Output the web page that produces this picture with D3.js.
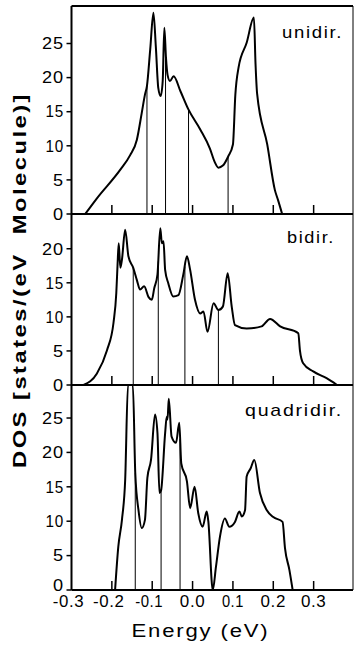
<!DOCTYPE html>
<html>
<head>
<meta charset="utf-8">
<script src="https://cdn.jsdelivr.net/npm/d3@7"></script>
<style>
  body { margin: 0; background: #fff; }
  svg { display: block; }
  text { font-family: "Liberation Sans", Arial, sans-serif; fill: #000; white-space: pre; }
</style>
</head>
<body>
<script>
// DOS curves, energy in eV, DOS in states/(eV Molecule)
let uniE = [-0.266,-0.237,-0.179,-0.155,-0.138,-0.126,-0.118,-0.113,-0.105,-0.097,-0.091,-0.085,-0.079,-0.074,-0.070,-0.066,-0.062,-0.056,-0.047,-0.030,-0.010,0.019,0.043,0.055,0.064,0.075,0.088,0.100,0.106,0.114,0.134,0.152,0.156,0.160,0.185,0.204,0.212,0.222];
let uniDos = [0,2.3,6.5,8.6,10.9,14.8,17.5,18.8,24.1,29.5,24.5,18.5,17.3,19.5,27.3,23.0,20.4,19.5,20.2,18.0,15.3,12.4,9.6,7.6,6.8,7.1,8.4,10.2,17.5,21.5,25.1,28.8,22.0,17.6,10.2,3.5,2.0,0];
let uniLines = [-0.113,-0.067,-0.010,0.088];

let biE = [-0.270,-0.237,-0.212,-0.196,-0.189,-0.186,-0.183,-0.179,-0.175,-0.167,-0.159,-0.147,-0.138,-0.130,-0.120,-0.109,-0.101,-0.095,-0.087,-0.080,-0.076,-0.072,-0.068,-0.060,-0.048,-0.035,-0.023,-0.014,-0.006,0.006,0.019,0.027,0.037,0.052,0.064,0.075,0.087,0.097,0.105,0.134,0.171,0.192,0.217,0.262,0.266,0.274,0.299,0.332,0.358];
let biDos = [0,1.7,5.1,9.1,13.5,17.5,20.8,17.2,18.4,22.8,18.9,17.2,15.4,14.0,14.5,12.9,12.5,14.2,16.2,23.0,20.8,21.1,16.9,14.9,13.0,13.2,16.2,18.9,16.9,12.5,10.5,10.8,7.8,12.0,11.0,11.5,16.4,11.5,8.8,8.3,8.6,9.7,8.6,7.6,5.1,3.2,2.0,1.0,0];
let biLines = [-0.147,-0.085,-0.019,0.064];

let quadE = [-0.192,-0.184,-0.175,-0.167,-0.160,-0.148,-0.142,-0.134,-0.126,-0.118,-0.112,-0.103,-0.093,-0.087,-0.082,-0.078,-0.068,-0.064,-0.062,-0.059,-0.052,-0.041,-0.033,-0.028,-0.014,-0.006,0.005,0.014,0.025,0.035,0.039,0.050,0.058,0.068,0.080,0.091,0.105,0.116,0.122,0.130,0.134,0.144,0.153,0.167,0.184,0.200,0.223,0.229,0.240,0.248];
let quadDos = [0,6.3,10.2,16.0,29.8,29.8,17.0,11.6,9.0,10.2,16.3,18.9,25.5,22.8,14.1,14.5,22.8,25.2,24.8,27.8,22.3,21.4,24.3,18.4,15.8,11.9,15.0,11.2,9.2,11.4,10.0,0,3.4,7.8,10.4,9.2,9.9,11.4,10.7,11.6,16.5,17.7,18.9,14.1,11.6,10.6,9.9,6.1,2.9,0];
let quadLines = [-0.142,-0.078,-0.031];

let panelNames = ["unidir.", "bidir.", "quadridir."];
let uniTicks = [0,5,10,15,20,25];
let biTicks = [0,5,10,15,20];
let quadTicks = [0,5,10,15,20,25];
let xTicks = [-0.2,-0.1,0.0,0.1,0.2,0.3];
let xLabelVals = [-0.3,-0.2,-0.1,0.0,0.1,0.2,0.3];
let xLabels = ["-0.3","-0.2","-0.1","0.0","0.1","0.2","0.3"];

let width = 354, height = 648;
let left = 71.5, right = 353;

let svg = d3.select("body").append("svg").attr("width", width).attr("height", height);

let x = d3.scaleLinear().domain([-0.3, 0.4]).range([left, 354]);

// rough glyph widths of the wide font in the scan
function charW(c) { return c == "1" ? 7.5 : c == "." ? 3.5 : c == "-" ? 6 : 11; }
function strW(s) { return d3.sum(s.split(""), charW); }

let panels = [
  {name: panelNames[0], E: uniE, dos: uniDos, lines: uniLines, ticks: uniTicks,
   y: d3.scaleLinear().domain([0, 30.5]).range([214, 6]), lab: [343, 38], w: 61},
  {name: panelNames[1], E: biE, dos: biDos, lines: biLines, ticks: biTicks,
   y: d3.scaleLinear().domain([0, 25.1]).range([385, 214]), lab: [335, 243], w: 48},
  {name: panelNames[2], E: quadE, dos: quadDos, lines: quadLines, ticks: quadTicks,
   y: d3.scaleLinear().domain([0, 29.8]).range([590, 385]), lab: [343, 416], w: 98}
];

function valAt(e, es, ds) {
  let i = d3.bisectLeft(es, e);
  if (i <= 0) return ds[0];
  if (i >= es.length) return ds[ds.length - 1];
  let t = (e - es[i-1]) / (es[i] - es[i-1]);
  return ds[i-1] + t * (ds[i] - ds[i-1]);
}

panels.forEach((p, k) => {
  let g = svg.append("g");
  let y = p.y;

  // thin vertical lines from baseline to curve
  g.selectAll("line.vl").data(p.lines).join("line")
    .attr("x1", d => x(d)).attr("x2", d => x(d))
    .attr("y1", y(0)).attr("y2", d => y(valAt(d, p.E, p.dos)))
    .attr("stroke", "#000").attr("stroke-width", 1);

  // inward x ticks
  g.selectAll("line.xt").data(xTicks).join("line")
    .attr("x1", d => x(d)).attr("x2", d => x(d))
    .attr("y1", y(0)).attr("y2", y(0) - 9)
    .attr("stroke", "#000").attr("stroke-width", 1.5);

  // outward y ticks + labels
  g.selectAll("line.yt").data(p.ticks).join("line")
    .attr("x1", left - 5).attr("x2", left)
    .attr("y1", d => y(d)).attr("y2", d => y(d))
    .attr("stroke", "#000").attr("stroke-width", 1.5);
  g.selectAll("text.yl").data(p.ticks).join("text")
    .attr("x", d => 64 - strW(String(d)))
    .attr("y", d => y(d) - (k == 2 && d == 0 ? 5 : 0))
    .attr("dy", "0.36em")
    .attr("font-size", 16).attr("letter-spacing", 0.8)
    .attr("textLength", d => strW(String(d))).attr("lengthAdjust", "spacingAndGlyphs")
    .text(d => d);

  let line = d3.line().x((d, i) => x(p.E[i])).y(d => y(d)).curve(d3.curveMonotoneX);
  g.append("path").attr("d", line(p.dos))
    .attr("fill", "none").attr("stroke", "#000").attr("stroke-width", 2)
    .attr("stroke-linejoin", "round");

  // baseline
  g.append("line").attr("x1", left).attr("x2", right)
    .attr("y1", y(0)).attr("y2", y(0))
    .attr("stroke", "#000").attr("stroke-width", 2);

  g.append("text").attr("x", p.lab[0] - p.w).attr("y", p.lab[1])
    .attr("font-size", 17).attr("letter-spacing", 1.5)
    .attr("textLength", p.w).attr("lengthAdjust", "spacingAndGlyphs")
    .text(p.name);
});

// frame
svg.append("line").attr("x1", left).attr("x2", left).attr("y1", 6).attr("y2", 590)
  .attr("stroke", "#000").attr("stroke-width", 2);
svg.append("line").attr("x1", left).attr("x2", right).attr("y1", 6).attr("y2", 6)
  .attr("stroke", "#000").attr("stroke-width", 2);
svg.append("line").attr("x1", right).attr("x2", right).attr("y1", 6).attr("y2", 590)
  .attr("stroke", "#000").attr("stroke-width", 1);

// x tick labels (digits centred on tick, minus hangs left)
svg.selectAll("text.xl").data(xLabelVals).join("text")
  .attr("x", (d, i) => {
    let s = xLabels[i], body = s.replace("-", "");
    return x(d) - strW(body) / 2 - (s.length - body.length) * charW("-");
  })
  .attr("y", 607)
  .attr("font-size", 16).attr("letter-spacing", 0.6)
  .attr("textLength", (d, i) => strW(xLabels[i])).attr("lengthAdjust", "spacingAndGlyphs")
  .text((d, i) => xLabels[i]);

svg.append("text").attr("x", 131.5).attr("y", 637)
  .attr("font-size", 18).attr("letter-spacing", 1.5)
  .attr("textLength", 138).attr("lengthAdjust", "spacingAndGlyphs")
  .text("Energy (eV)");

svg.append("text")
  .attr("transform", "translate(26,468) rotate(-90)")
  .attr("font-size", 19).attr("font-weight", "bold").attr("letter-spacing", 2)
  .attr("textLength", 376).attr("lengthAdjust", "spacingAndGlyphs")
  .text("DOS [states/(eV  Molecule)]");
</script>
</body>
</html>
